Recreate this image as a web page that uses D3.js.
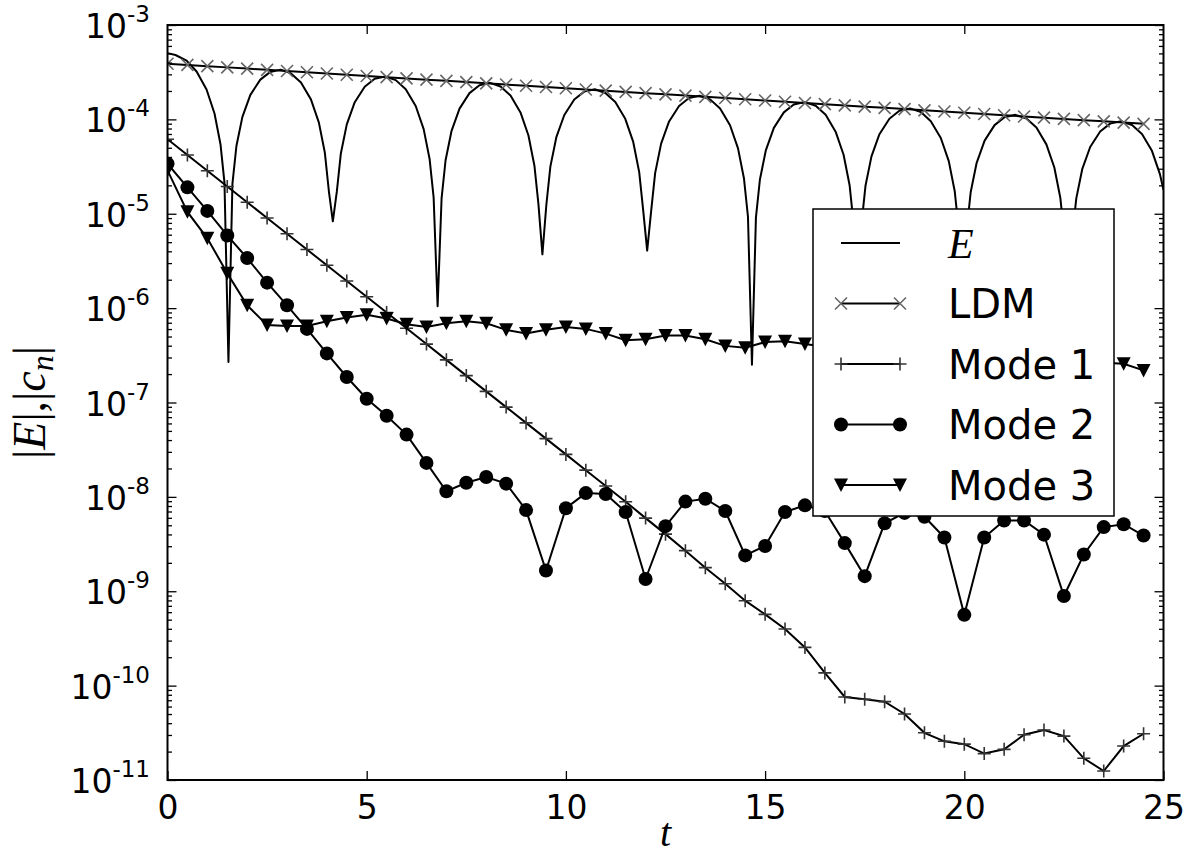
<!DOCTYPE html>
<html>
<head>
<meta charset="utf-8">
<script src="https://d3js.org/d3.v7.min.js"></script>
<style>
  html, body { margin: 0; padding: 0; background: #fff; }
  svg { display: block; }
</style>
</head>
<body>
<svg id="chart"></svg>
<script>
// ---- data (values are log10 of the quantity) ----

// sample times shared by the marker series
const tMarks = [0, 0.5, 1, 1.5, 2, 2.5, 3, 3.5, 4, 4.5,
  5, 5.5, 6, 6.5, 7, 7.5, 8, 8.5, 9, 9.5,
  10, 10.5, 11, 11.5, 12, 12.5, 13, 13.5, 14, 14.5,
  15, 15.5, 16, 16.5, 17, 17.5, 18, 18.5, 19, 19.5,
  20, 20.5, 21, 21.5, 22, 22.5, 23, 23.5, 24, 24.5];

const ldmLog10 = [-3.410, -3.423, -3.436, -3.449, -3.462, -3.475, -3.488, -3.501, -3.514, -3.527,
  -3.540, -3.553, -3.566, -3.579, -3.592, -3.605, -3.618, -3.631, -3.644, -3.657,
  -3.670, -3.683, -3.696, -3.709, -3.722, -3.735, -3.748, -3.761, -3.774, -3.787,
  -3.800, -3.813, -3.826, -3.839, -3.852, -3.865, -3.878, -3.891, -3.904, -3.917,
  -3.930, -3.943, -3.956, -3.969, -3.982, -3.995, -4.008, -4.021, -4.034, -4.047];

const mode1Log10 = [-4.21, -4.377, -4.544, -4.711, -4.878, -5.045, -5.212, -5.379, -5.546, -5.713,
  -5.88, -6.047, -6.214, -6.381, -6.548, -6.715, -6.882, -7.049, -7.216, -7.383,
  -7.55, -7.717, -7.884, -8.051, -8.225, -8.395, -8.57, -8.75, -8.92, -9.10,
  -9.245, -9.40, -9.595, -9.865, -10.12, -10.145, -10.17, -10.30, -10.50, -10.59,
  -10.62, -10.72, -10.675, -10.52, -10.47, -10.535, -10.77, -10.905, -10.64, -10.51];

const mode2Log10 = [-4.47, -4.72, -4.97, -5.23, -5.47, -5.73, -5.97, -6.22, -6.48, -6.73,
  -6.96, -7.14, -7.34, -7.64, -7.94, -7.85, -7.79, -7.86, -8.14, -8.78,
  -8.12, -7.96, -7.97, -8.16, -8.87, -8.31, -8.05, -8.02, -8.15, -8.62,
  -8.52, -8.16, -8.09, -8.15, -8.49, -8.84, -8.28, -8.17, -8.21, -8.43,
  -9.25, -8.43, -8.25, -8.25, -8.40, -9.05, -8.61, -8.32, -8.29, -8.41];

const mode3Log10 = [-4.54, -4.98, -5.26, -5.63, -5.97, -6.18, -6.19, -6.19, -6.14, -6.10,
  -6.07, -6.11, -6.17, -6.20, -6.16, -6.14, -6.16, -6.23, -6.27, -6.23,
  -6.20, -6.22, -6.27, -6.34, -6.33, -6.29, -6.29, -6.33, -6.40, -6.42,
  -6.36, -6.35, -6.38, -6.41, -6.44, -6.45, -6.43, -6.41, -6.43, -6.47,
  -6.50, -6.51, -6.49, -6.47, -6.48, -6.51, -6.55, -6.58, -6.59, -6.66];

// |E| is a dense oscillating curve, sampled more finely near its dips
const eTime = [0, 0.2, 0.48, 0.73, 0.98, 1.18, 1.33, 1.43, 1.53,
  1.63, 1.73, 1.88, 2.08, 2.33, 2.58, 2.84, 3.10, 3.35, 3.60, 3.80, 3.95, 4.05, 4.15,
  4.25, 4.35, 4.50, 4.70, 4.95, 5.20, 5.465, 5.73, 5.98, 6.23, 6.43, 6.58, 6.68, 6.78,
  6.88, 6.98, 7.13, 7.33, 7.58, 7.83, 8.095, 8.36, 8.61, 8.86, 9.06, 9.21, 9.31, 9.41,
  9.51, 9.61, 9.76, 9.96, 10.21, 10.46, 10.725, 10.99, 11.24, 11.49, 11.69, 11.84, 11.94, 12.04,
  12.14, 12.24, 12.39, 12.59, 12.84, 13.09, 13.355, 13.62, 13.87, 14.12, 14.32, 14.47, 14.57, 14.67,
  14.77, 14.87, 15.02, 15.22, 15.47, 15.72, 15.995, 16.27, 16.52, 16.77, 16.97, 17.12, 17.22, 17.32,
  17.42, 17.52, 17.67, 17.87, 18.12, 18.37, 18.64, 18.91, 19.16, 19.41, 19.61, 19.76, 19.86, 19.96,
  20.06, 20.16, 20.31, 20.51, 20.76, 21.01, 21.285, 21.56, 21.81, 22.06, 22.26, 22.41, 22.51, 22.61,
  22.71, 22.81, 22.96, 23.16, 23.41, 23.66, 23.935, 24.21, 24.46, 24.71, 24.91, 25.0];

const eLog10 = [-3.298, -3.318, -3.377, -3.493, -3.684, -3.938, -4.263, -4.671, -6.57,
  -4.681, -4.282, -3.973, -3.740, -3.579, -3.497, -3.473, -3.513, -3.610, -3.788, -4.034, -4.354, -4.759, -5.08,
  -4.766, -4.365, -4.053, -3.818, -3.654, -3.570, -3.545, -3.584, -3.680, -3.858, -4.103, -4.423, -4.828, -5.98,
  -4.834, -4.433, -4.121, -3.886, -3.722, -3.638, -3.613, -3.652, -3.748, -3.926, -4.171, -4.491, -4.896, -5.43,
  -4.902, -4.501, -4.189, -3.954, -3.790, -3.706, -3.681, -3.720, -3.816, -3.994, -4.239, -4.559, -4.964, -5.39,
  -4.970, -4.569, -4.257, -4.022, -3.858, -3.774, -3.749, -3.788, -3.884, -4.062, -4.307, -4.627, -5.032, -6.60,
  -5.038, -4.637, -4.325, -4.090, -3.926, -3.842, -3.817, -3.856, -3.952, -4.130, -4.375, -4.695, -5.100, -5.6,
  -5.105, -4.704, -4.392, -4.157, -3.993, -3.909, -3.884, -3.923, -4.019, -4.197, -4.442, -4.762, -5.167, -5.4,
  -5.173, -4.772, -4.460, -4.225, -4.061, -3.977, -3.952, -3.991, -4.087, -4.265, -4.510, -4.830, -5.235, -5.9,
  -5.241, -4.840, -4.528, -4.293, -4.129, -4.045, -4.020, -4.059, -4.155, -4.333, -4.58, -4.75];

const xTicks = [0, 5, 10, 15, 20, 25];
const yDecades = [-11, -10, -9, -8, -7, -6, -5, -4, -3];
const legendLabels = ["E", "LDM", "Mode 1", "Mode 2", "Mode 3"];

// ---- layout ----
const W = 1191, H = 857;
const plot = { left: 167.5, right: 1163.5, top: 25, bottom: 780 };
const tickFont = "'DejaVu Sans', sans-serif";
const mathFont = "'Liberation Serif', 'Times New Roman', serif";

const svg = d3.select("#chart").attr("width", W).attr("height", H);

const x = d3.scaleLinear().domain([0, 25]).range([plot.left, plot.right]);
const y = d3.scaleLog().domain([1e-11, 1e-3]).range([plot.bottom, plot.top]);

svg.append("defs").append("clipPath").attr("id", "clip")
  .append("rect")
  .attr("x", plot.left).attr("y", plot.top)
  .attr("width", plot.right - plot.left).attr("height", plot.bottom - plot.top);

// marker shapes
const markerPaths = {
  x: "M-6,-6L6,6M-6,6L6,-6",
  plus: "M-6.5,0H6.5M0,-6.5V6.5",
  tri: "M-7,-6.5L7,-6.5L0,7Z"
};

function drawMarker(g, type, px, py) {
  if (type === "circle") {
    g.append("circle").attr("cx", px).attr("cy", py).attr("r", 7).attr("fill", "#000");
  } else if (type === "tri") {
    g.append("path").attr("d", markerPaths.tri)
      .attr("transform", `translate(${px},${py})`).attr("fill", "#000");
  } else {
    g.append("path").attr("d", markerPaths[type])
      .attr("transform", `translate(${px},${py})`)
      .attr("fill", "none")
      .attr("stroke", type === "x" ? "#666" : "#333")
      .attr("stroke-width", 1.6);
  }
}

const series = [
  { name: "LDM", t: tMarks, v: ldmLog10, marker: "x" },
  { name: "Mode 1", t: tMarks, v: mode1Log10, marker: "plus" },
  { name: "Mode 2", t: tMarks, v: mode2Log10, marker: "circle" },
  { name: "Mode 3", t: tMarks, v: mode3Log10, marker: "tri" }
];

const line = d3.line().x((d) => x(d[0])).y((d) => y(d[1]));
const chart = svg.append("g").attr("clip-path", "url(#clip)");

// |E| curve
chart.append("path")
  .datum(eTime.map((t, i) => [t, Math.pow(10, eLog10[i])]))
  .attr("d", line)
  .attr("fill", "none")
  .attr("stroke", "#000")
  .attr("stroke-width", 2)
  .attr("stroke-linejoin", "round");

series.forEach((s) => {
  const pts = s.t.map((t, i) => [t, Math.pow(10, s.v[i])]);
  chart.append("path")
    .datum(pts)
    .attr("d", line)
    .attr("fill", "none")
    .attr("stroke", "#000")
    .attr("stroke-width", 2);
  const mg = chart.append("g");
  pts.forEach((d) => drawMarker(mg, s.marker, x(d[0]), y(d[1])));
});

// ---- axes: ticks point inwards on all four sides ----
const majorVals = yDecades.map((d) => Math.pow(10, d));
const minorVals = [];
yDecades.slice(0, -1).forEach((d) => {
  for (let m = 2; m <= 9; m++) minorVals.push(m * Math.pow(10, d));
});

function styleAxis(g) {
  g.select(".domain").remove();
  g.selectAll(".tick line").attr("stroke", "#000").attr("stroke-width", 1.3);
}

svg.append("g").attr("transform", `translate(0,${plot.bottom})`)
  .call(d3.axisBottom(x).tickValues(xTicks).tickSize(-9).tickPadding(16).tickFormat(d3.format("d")))
  .call(styleAxis)
  .selectAll("text")
  .attr("font-family", tickFont).attr("font-size", 33).attr("fill", "#000");

svg.append("g").attr("transform", `translate(0,${plot.top})`)
  .call(d3.axisTop(x).tickValues(xTicks.slice(1, -1)).tickSize(-9).tickFormat(""))
  .call(styleAxis);

[[d3.axisLeft, plot.left], [d3.axisRight, plot.right]].forEach(([axisFn, px]) => {
  svg.append("g").attr("transform", `translate(${px},0)`)
    .call(axisFn(y).tickValues(majorVals).tickSize(-9).tickFormat(""))
    .call(styleAxis);
  svg.append("g").attr("transform", `translate(${px},0)`)
    .call(axisFn(y).tickValues(minorVals).tickSize(-4.5).tickFormat(""))
    .call(styleAxis);
});

// y tick labels as 10 with superscript exponent
yDecades.forEach((d) => {
  const txt = svg.append("text")
    .attr("x", 150)
    .attr("y", y(Math.pow(10, d)) + 13)
    .attr("text-anchor", "end")
    .attr("font-family", tickFont)
    .attr("fill", "#000");
  txt.append("tspan").attr("font-size", 33).text("10");
  txt.append("tspan").attr("font-size", 23).attr("dy", -16).text("-" + Math.abs(d));
});

// frame
svg.append("rect")
  .attr("x", plot.left).attr("y", plot.top)
  .attr("width", plot.right - plot.left).attr("height", plot.bottom - plot.top)
  .attr("fill", "none").attr("stroke", "#000").attr("stroke-width", 2);

// axis titles
svg.append("text")
  .attr("x", (plot.left + plot.right) / 2)
  .attr("y", 846)
  .attr("text-anchor", "middle")
  .attr("font-family", mathFont)
  .attr("font-style", "italic")
  .attr("font-size", 40)
  .text("t");

const yTitle = svg.append("text")
  .attr("transform", `translate(45,${(plot.top + plot.bottom) / 2}) rotate(-90)`)
  .attr("text-anchor", "middle")
  .attr("font-family", mathFont)
  .attr("font-size", 46);
yTitle.append("tspan").text("|");
yTitle.append("tspan").attr("font-style", "italic").text("E");
yTitle.append("tspan").text("|,|");
yTitle.append("tspan").attr("font-style", "italic").text("c");
yTitle.append("tspan").attr("font-style", "italic").attr("font-size", 32).attr("dy", 8).text("n");
yTitle.append("tspan").attr("dy", -8).text("|");

// ---- legend ----
const legend = svg.append("g");
legend.append("rect")
  .attr("x", 813).attr("y", 209).attr("width", 301).attr("height", 307)
  .attr("fill", "#fff").attr("stroke", "#000").attr("stroke-width", 1.5);

const legendMarkers = [null, "x", "plus", "circle", "tri"];
legendLabels.forEach((label, i) => {
  const yc = 243 + i * 60.5;
  legend.append("line")
    .attr("x1", 841).attr("x2", 900).attr("y1", yc).attr("y2", yc)
    .attr("stroke", "#000").attr("stroke-width", 2);
  if (legendMarkers[i]) {
    drawMarker(legend, legendMarkers[i], 841, yc);
    drawMarker(legend, legendMarkers[i], 900, yc);
  }
  const t = legend.append("text")
    .attr("x", 948)
    .attr("y", yc + 14.5)
    .attr("fill", "#000")
    .text(label);
  if (i === 0) {
    t.attr("font-family", mathFont).attr("font-style", "italic").attr("font-size", 42);
  } else {
    t.attr("font-family", tickFont).attr("font-size", 40);
  }
});
</script>
</body>
</html>
